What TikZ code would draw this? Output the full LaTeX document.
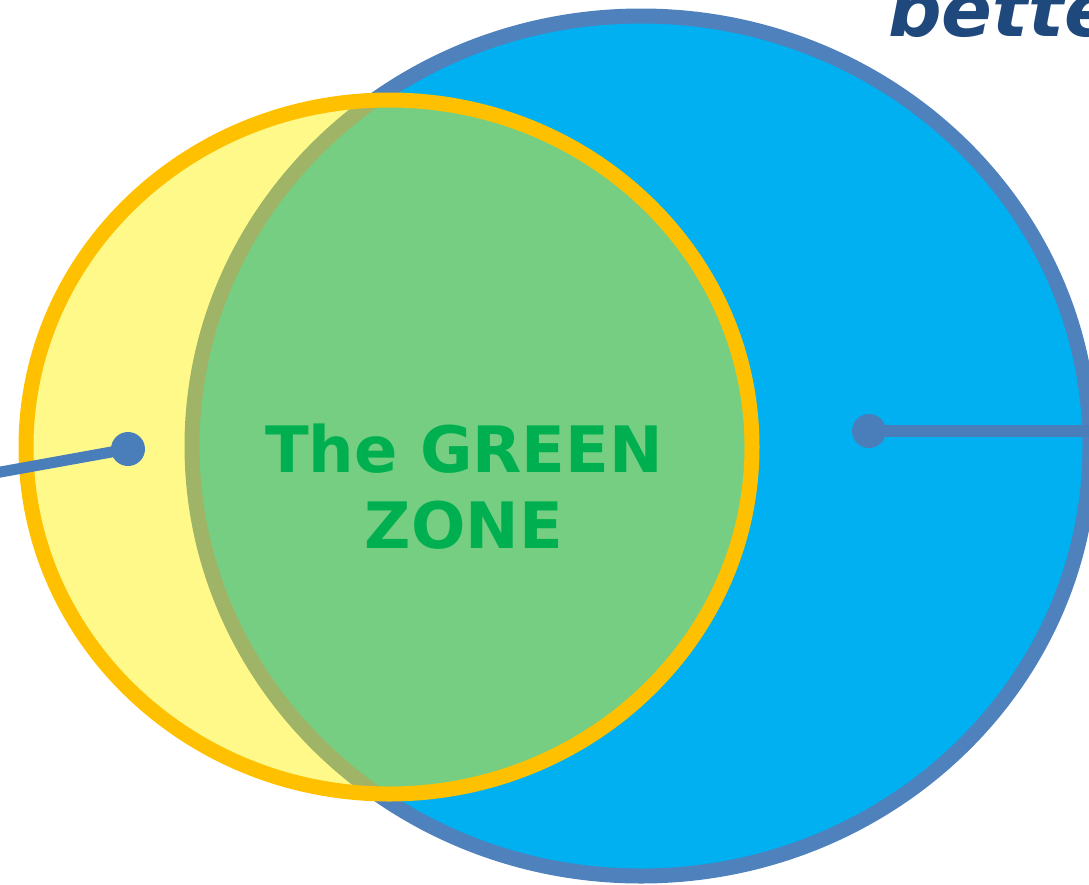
\documentclass[tikz,border=0pt]{standalone}
\usepackage{fontspec}
\setmainfont{DejaVu Sans}
\definecolor{bluefill}{HTML}{00B0F0}
\definecolor{blueline}{HTML}{4F81BD}
\definecolor{conn}{HTML}{4A7EBB}
\definecolor{goldline}{HTML}{FFC000}
\definecolor{zonegreen}{HTML}{00B050}
\definecolor{darkblue}{HTML}{1F497D}
\tikzset{
  connline/.style={draw=conn, line width=11pt},
  dotnode/.style={circle, fill=conn, inner sep=0pt, minimum size=34pt},
}
\begin{document}
\begin{tikzpicture}[x=1pt,y=-1pt]
\useasboundingbox (0,0) rectangle (1089,884);
% big blue ellipse
\draw[blueline, fill=bluefill, line width=15pt] (641,446) ellipse [x radius=449, y radius=430];
% yellow ellipse: translucent fill, opaque border
\fill[yellow, fill opacity=0.46] (389,447) ellipse [x radius=363, y radius=347];
\draw[goldline, line width=15pt] (389,447) ellipse [x radius=363, y radius=347];
% connectors
\node[dotnode] (ldot) at (128,449) {};
\coordinate (lend) at (-5,473);
\draw[connline] (lend) -- (ldot.center);
\node[dotnode] (rdot) at (869,431) {};
\coordinate (rend) at (1095,431);
\draw[connline, line width=12pt] (rdot.center) -- (rend);
% texts
\node[text=zonegreen, font=\bfseries\fontsize{64}{76}\selectfont, align=center, anchor=base] (zone) at (464,548) {The GREEN\\ZONE};
\node[text=darkblue, font=\bfseries\itshape\fontsize{75}{90}\selectfont, anchor=base west, inner sep=0pt] (better) at (888,36) {better};
\end{tikzpicture}
\end{document}
